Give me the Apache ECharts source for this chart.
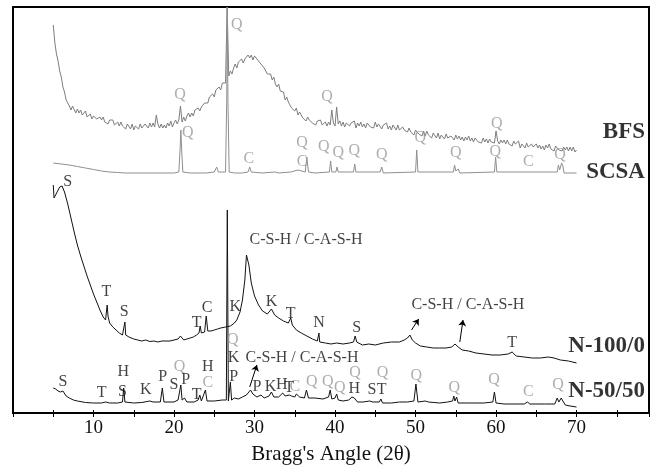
<!DOCTYPE html>
<html><head><meta charset="utf-8">
<script src="https://cdn.jsdelivr.net/npm/echarts@6/dist/echarts.min.js"></script>
<style>html,body{margin:0;padding:0;background:#fff}#c{width:656px;height:471px}</style>
</head><body><div id="c"></div>
<script>
// BFS scan: 2θ from 5.0° in 0.2° steps, stacked intensity (offset, arbitrary units)
const bfsStart = 5.0, bfsStep = 0.2;
const bfsIntensity = [
388,370,359,352,342,336,326,321,313,311,
307,303,307,305,300,304,300,303,298,299,
302,296,298,299,294,297,299,294,292,296,
293,296,291,293,289,293,291,293,288,289,
291,287,291,287,289,284,289,287,284,289,
283,287,288,284,289,285,283,289,287,285,
290,286,290,286,298,289,285,289,285,288,
285,290,287,292,286,290,293,289,293,307,
291,296,292,297,300,296,300,297,303,302,
305,302,306,304,310,310,310,316,314,319,
316,323,321,326,323,330,331,330,406,337,
342,339,345,349,345,351,349,354,350,354,
353,358,355,358,353,357,358,353,355,349,
350,345,347,339,341,339,333,336,329,326,
329,322,322,321,313,316,311,313,305,306,
302,305,298,301,302,295,297,292,296,293,
295,290,292,288,292,290,293,288,288,291,
287,291,288,303,290,287,306,289,292,287,
291,286,290,292,287,290,288,292,285,290,
287,291,286,289,285,290,291,286,288,285,
291,286,289,289,284,288,286,290,284,287,
283,288,286,283,288,283,281,286,283,285,
281,285,281,283,278,283,284,279,281,277,
282,277,282,278,279,275,280,278,275,280,
274,278,278,274,279,275,273,277,275,273,
278,274,277,273,276,272,276,273,277,272,
275,271,275,276,271,273,270,275,271,274,
270,274,271,273,270,282,272,269,273,270,
273,269,273,269,271,267,272,269,267,272,
265,269,270,265,270,266,264,269,266,264,
269,265,268,264,267,263,268,265,269,264,
266,262,267,268,263,265,262,266,263,266,
262,266,262,266,261,263];

const scsa = [[5.0,250],[6.0,249],[7.0,248],[8.0,246.5],[9.0,245],[10.0,243.5],[11.0,242],[12.0,241],[13.0,240.5],[14.0,240],[16.0,240],[18.0,240],[20.0,240],[20.6,241],[20.75,263],[20.85,283],[20.95,263],[21.1,241],[22.0,240],[24.0,240],[25.0,241],[25.3,246],[25.5,241],[26.4,241],[26.55,313],[26.62,406],[26.7,313],[26.85,241],[27.5,240],[28.5,240],[29.2,241],[29.4,246],[29.6,241],[31.0,240],[32.5,241],[33.0,240],[34.5,241],[35.4,243],[35.6,242],[36.3,241],[36.5,256],[36.7,241],[37.5,240],[39.3,241],[39.45,252],[39.6,241],[40.1,241],[40.25,246],[40.4,241],[42.3,241],[42.45,249],[42.6,241],[45.6,241],[45.8,246],[46.0,240],[50.0,241],[50.15,263],[50.3,241],[54.7,241],[54.85,248],[55.0,242],[55.3,244],[55.5,240],[59.8,241],[59.95,256],[60.1,241],[63.9,241],[64.0,242],[64.1,240],[67.6,241],[67.75,248],[67.9,243],[68.15,250],[68.3,247],[68.45,240],[70.0,240]];

const n100 = [[5.0,228],[5.1,215],[5.8,226],[6.1,227],[6.4,221],[6.8,209],[7.2,195],[7.6,181],[8.0,168],[8.4,157],[8.8,147],[9.2,137],[9.6,128],[10.0,119],[10.4,111],[10.8,103],[11.2,96],[11.5,93],[11.6,101],[11.7,108],[11.8,97],[12.0,90],[12.4,86],[12.8,83],[13.2,80],[13.6,78],[13.8,79],[13.9,91],[14.0,78],[14.4,76],[15.0,74],[15.5,73],[16.0,72],[16.5,73],[17.0,71.5],[17.5,72],[18.0,71],[18.5,72],[19.0,72],[19.5,72],[20.0,73],[20.5,74],[20.8,77],[21.2,73],[21.6,74],[22.0,75],[22.4,76],[22.8,78],[23.1,80],[23.25,87],[23.4,80],[23.8,81],[24.0,97],[24.2,82],[24.6,82],[25.0,83],[25.4,84],[25.8,85],[26.4,86],[27.0,87],[27.5,90],[27.8,93],[28.2,101],[28.5,113],[28.8,133],[29.0,158],[29.1,160],[29.3,148],[29.6,130],[30.0,117],[30.5,108],[31.0,102],[31.6,99],[32.1,104],[32.5,98],[33.0,95],[33.6,92],[34.2,90],[34.5,95],[34.7,88],[35.2,83],[35.8,80],[36.5,77],[37.2,74],[37.8,72],[38.0,80],[38.1,71],[38.8,70],[39.5,69],[40.2,70],[41.0,69],[41.8,70],[42.3,71],[42.5,77],[42.7,71],[43.4,68],[44.2,69],[45.0,68],[46.0,70],[47.0,71],[48.0,71],[48.6,73],[49.0,75],[49.3,78],[49.6,73],[50.0,70],[50.6,67],[51.4,66],[52.2,65],[53.0,65],[53.8,65],[54.5,66],[54.9,69],[55.3,66],[55.8,63],[56.6,62],[57.5,60],[58.5,59],[59.5,58],[60.5,58],[61.5,59],[62.0,61],[62.5,57],[63.5,56],[64.5,55],[65.5,55],[66.5,56],[67.2,55],[68.0,53],[69.0,52],[70.0,50]];

const n5050 = [[5.0,25],[5.3,24],[5.6,22],[5.9,21],[6.2,22],[6.6,17],[7.0,15],[7.5,13],[8.0,12],[9.0,10.5],[10.0,10],[11.0,10],[11.5,11],[12.0,10],[13.0,10],[13.6,11],[13.75,25],[13.9,11],[15.0,10],[16.0,10.5],[17.0,12],[17.2,13],[17.4,11],[18.3,11],[18.55,25],[18.75,11],[20.0,11],[20.5,13],[20.85,28],[21.0,13],[21.3,15],[21.6,11],[22.5,11],[23.0,13],[23.2,18],[23.4,12],[23.9,23],[24.1,12],[25.0,12],[26.0,13],[26.5,13],[26.62,203],[26.75,12],[27.0,31],[27.15,13],[27.5,15],[28.0,14],[28.5,16],[29.0,18],[29.5,23],[29.8,19],[30.3,16],[30.8,18],[31.2,15],[31.8,17],[32.1,21],[32.4,16],[33.0,16],[33.5,20],[33.8,17],[34.3,18],[34.6,17],[35.0,16],[35.2,19],[35.6,16],[36.2,15],[36.45,23],[36.7,15],[37.5,15],[38.5,14],[39.2,16],[39.4,23],[39.6,14],[40.0,15],[40.2,19],[40.4,13],[41.0,12],[41.7,13],[42.1,16],[42.4,15],[42.8,11],[43.5,11],[44.3,12],[44.5,14],[44.7,11],[45.5,11],[45.7,14],[45.9,10],[47.0,10],[48.0,11],[49.0,11],[49.8,12],[50.05,29],[50.3,11],[51.2,12],[51.4,14],[51.6,11],[53.0,10],[54.0,11],[54.6,12],[54.75,17],[54.9,12],[55.1,16],[55.3,10],[57.0,10],[58.5,10],[59.6,11],[59.8,21],[60.0,10],[61.0,9],[62.0,9],[63.5,9],[63.9,11],[64.2,9],[66.0,9],[67.3,9],[67.6,15],[67.8,11],[68.1,15],[68.3,12],[68.6,8],[69.2,7],[70.0,6]];

const xTickLabels = [10, 20, 30, 40, 50, 60, 70];

// phase annotations: [2θ, height, text]
const grayNotes = [[20.75,318,'Q'],[27.8,388,'Q'],[39.0,316,'Q'],[60.1,289,'Q'],
  [21.7,280,'Q'],[29.3,254,'C'],[35.9,270,'Q'],[35.9,251,'C'],[38.6,266,'Q'],[40.4,260,'Q'],[42.4,262,'Q'],[45.8,258,'Q'],[50.6,275,'Q'],[55.0,260,'Q'],[59.9,261,'Q'],[64.0,251,'C'],[67.95,258,'Q'],
  [20.7,46,'Q'],[24.2,30,'C'],[27.3,73,'Q'],[35.0,26,'C'],[37.1,31,'Q'],[39.1,31,'Q'],[40.6,25,'Q'],[42.5,40,'Q'],[45.9,40,'Q'],[50.1,37,'Q'],[54.8,25,'Q'],[59.75,33,'Q'],[64.0,21,'C'],[67.7,28,'Q']];
const blackNotes = [[6.8,231,'S'],[11.6,121,'T'],[13.8,101,'S'],[22.8,90,'T'],[24.1,105,'C'],[27.6,106,'K'],[32.1,111,'K'],[34.5,99,'T'],[38.0,90,'N'],[42.7,85,'S'],[62.0,70,'T'],
  [6.2,31,'S'],[11.0,20,'T'],[13.7,41,'H'],[13.6,21,'S'],[16.5,23,'K'],[18.6,36,'P'],[20.0,28,'S'],[21.45,33,'P'],[22.8,18,'T'],[24.2,46,'H'],[27.4,55,'K'],[27.4,36,'P'],[30.3,26,'P'],[32.0,26,'K'],[33.4,28,'H'],[34.3,25,'T'],[42.4,24,'H'],[44.6,23,'S'],[45.8,23,'T'],
  [36.4,173,'C-S-H / C-A-S-H'],[56.5,108,'C-S-H / C-A-S-H'],[35.9,55,'C-S-H / C-A-S-H']];
const sampleNames = [[78.5,281,'BFS'],[78.5,241,'SCSA'],[78.5,67,'N-100/0'],[78.5,22,'N-50/50']];
const arrows = [[[29.4,26],[30.3,48]],[[49.5,83],[50.4,94]],[[55.5,71],[55.9,93]]];

const bfs = bfsIntensity.map((y, i) => [+(bfsStart + i * bfsStep).toFixed(2), y]);

const FONT = "'Liberation Serif','Times New Roman',serif";
function noteSeries(list, color, size, bold, align) {
  return {
    type: 'scatter', symbolSize: 0, silent: true, z: 5,
    data: list.map(d => ({ value: [d[0], d[1]], name: d[2] })),
    label: { show: true, position: 'inside', formatter: '{b}', color: color, fontFamily: FONT,
      fontSize: size, fontWeight: bold ? 'bold' : 'normal', align: align || 'center', verticalAlign: 'middle' }
  };
}
function lineSeries(data, color) {
  return { type: 'line', data: data, showSymbol: false, symbol: 'none', silent: true,
    lineStyle: { color: color, width: 1 }, z: 3 };
}
const chart = echarts.init(document.getElementById('c'), null, { renderer: 'canvas' });
const axisCommon = { type: 'value', min: 0, max: 79, interval: 5, splitLine: { show: false } };
chart.setOption({
  animation: false,
  grid: { left: 13, right: 7, top: 7, bottom: 58, show: true, borderColor: '#000', borderWidth: 2 },
  xAxis: [
    Object.assign({}, axisCommon, {
      axisLine: { lineStyle: { color: '#000', width: 2 } },
      axisTick: { inside: false, length: 4, lineStyle: { color: '#000', width: 1 } },
      axisLabel: { margin: 6, fontSize: 19, color: '#111', fontFamily: FONT,
        formatter: v => xTickLabels.indexOf(v) >= 0 ? String(v) : '' },
      name: "Bragg's Angle (2θ)", nameLocation: 'middle', nameGap: 31,
      nameTextStyle: { fontSize: 21, color: '#111', fontFamily: FONT }
    }),
    Object.assign({}, axisCommon, {
      position: 'bottom',
      axisLine: { show: false },
      axisTick: { inside: true, length: 3, lineStyle: { color: '#000', width: 1 } },
      axisLabel: { show: false }
    })
  ],
  yAxis: { type: 'value', min: 0, max: 406, show: false },
  series: [
    lineSeries(bfs, '#7d7d7d'),
    lineSeries(scsa, '#8f8f8f'),
    lineSeries(n100, '#111'),
    lineSeries(n5050, '#111'),
    noteSeries(grayNotes, '#999', 16, false),
    noteSeries(blackNotes, '#111', 16, false),
    noteSeries(sampleNames, '#000', 23, true, 'right'),
    { type: 'lines', coordinateSystem: 'cartesian2d', silent: true, z: 6,
      symbol: ['none', 'arrow'], symbolSize: 6,
      lineStyle: { color: '#000', width: 1, opacity: 1 },
      data: arrows.map(a => ({ coords: a })) }
  ]
});
</script></body></html>
